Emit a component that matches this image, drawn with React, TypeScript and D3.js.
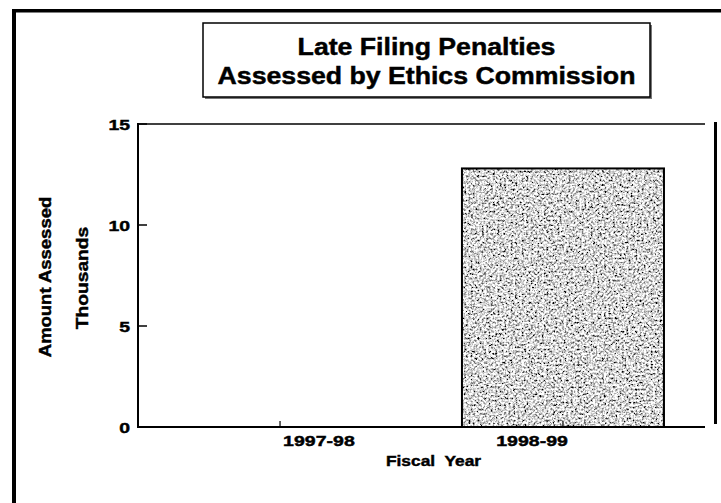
import React from 'react';
import { scaleBand, scaleLinear, scalePoint } from 'd3';

// values
const years = ['1997-98', '1998-99'];
const assessed = [0, 12.8]; // thousands
const yTicks = [0, 5, 10, 15];
const titleLines = ['Late Filing Penalties', 'Assessed by Ethics Commission'];

const W = 721;
const H = 503;
const plot = { left: 138, right: 705, top: 124, bottom: 427 };
const font = '"Liberation Sans", Arial, sans-serif';

type STProps = {
  x: number;
  y: number;
  size: number;
  sx: number;
  rotate?: number;
  anchor?: 'start' | 'middle' | 'end';
  dy?: string;
  children: React.ReactNode;
};

// the scan's lettering is a wide, heavy Helvetica bold: stretch it sideways
const StretchText = ({ x, y, size, sx, rotate = 0, anchor = 'middle', dy, children }: STProps) => (
  <g transform={`translate(${x},${y}) rotate(${rotate}) scale(${sx},1)`}>
    <text
      textAnchor={anchor}
      dy={dy}
      fontFamily={font}
      fontWeight="bold"
      fontSize={size}
      fill="#000"
      stroke="#000"
      strokeWidth={0.45}
      style={{ whiteSpace: 'pre' }}
    >
      {children}
    </text>
  </g>
);

const App: React.FC = () => {
  const x = scaleBand<string>()
    .domain(years)
    .range([plot.left, plot.right])
    .paddingInner(0.286)
    .paddingOuter(0.145);

  // the category labels in the scan sit a little inward of the bars
  const xLabel = scalePoint<string>()
    .domain(years)
    .range([plot.left, plot.right])
    .padding(0.83);

  const y = scaleLinear().domain([0, 15]).range([plot.bottom, plot.top]);

  return (
    <svg
      width={W}
      height={H}
      style={{ position: 'absolute', left: 0, top: 0, background: '#fff' }}
    >
      <defs>
        <filter id="grain" x="0" y="0" width="1" height="1">
          <feTurbulence type="fractalNoise" baseFrequency="0.45" numOctaves="4" seed="11" />
          <feColorMatrix
            type="matrix"
            values="2.6 0 0 0 -0.62  2.6 0 0 0 -0.62  2.6 0 0 0 -0.62  0 0 0 0 1"
          />
          <feComposite in2="SourceGraphic" operator="in" />
        </filter>
      </defs>

      {/* outer frame (left, top, and the short right piece) */}
      <rect x={12} y={9} width={4} height={H - 9} fill="#000" />
      <rect x={12} y={9} width={W - 12} height={3.5} fill="#000" />
      <rect x={714} y={122} width={3} height={302} fill="#000" />

      {/* title box */}
      <rect x={205} y={25} width={447} height={74} fill="#777" />
      <rect x={203} y={23} width={447} height={74} fill="#fff" stroke="#000" strokeWidth={1.5} />
      {titleLines.map((t, i) => (
        <StretchText key={t} x={426.5} y={55 + i * 29} size={23} sx={1.16}>
          {t}
        </StretchText>
      ))}

      {/* bars */}
      {years.map((yr, i) => {
        const v = assessed[i];
        if (v <= 0) return null;
        const bx = x(yr)!;
        const by = y(v);
        return (
          <g key={yr}>
            <rect
              x={bx}
              y={by}
              width={x.bandwidth()}
              height={y(0) - by}
              fill="#999"
              filter="url(#grain)"
            />
            <rect
              x={bx}
              y={by}
              width={x.bandwidth()}
              height={y(0) - by}
              fill="none"
              stroke="#000"
              strokeWidth={2}
            />
          </g>
        );
      })}

      {/* axes */}
      <line x1={plot.left} x2={plot.right} y1={y(15)} y2={y(15)} stroke="#000" strokeWidth={1.5} />
      <line x1={plot.left} x2={plot.right} y1={y(0)} y2={y(0)} stroke="#000" strokeWidth={2.2} />
      <line x1={plot.left} x2={plot.left} y1={y(15) - 1} y2={y(0) + 1} stroke="#000" strokeWidth={2} />

      {yTicks.map((t) => (
        <g key={t}>
          <line x1={plot.left} x2={plot.left + 9} y1={y(t)} y2={y(t)} stroke="#000" strokeWidth={1.5} />
          <StretchText x={130} y={y(t)} size={15.5} sx={1.25} anchor="end" dy="0.36em">
            {t}
          </StretchText>
        </g>
      ))}

      {years.map((yr) => (
        <g key={yr}>
          <line
            x1={x(yr)! + x.bandwidth() / 2}
            x2={x(yr)! + x.bandwidth() / 2}
            y1={y(0)}
            y2={y(0) - 6}
            stroke="#000"
            strokeWidth={1.2}
          />
          <StretchText x={xLabel(yr)! + 4} y={446} size={15.5} sx={1.26}>
            {yr}
          </StretchText>
        </g>
      ))}

      <StretchText x={(plot.left + plot.right) / 2 + 12} y={466} size={15.5} sx={1.12}>
        {'Fiscal  Year'}
      </StretchText>

      {/* y axis title */}
      <StretchText x={51} y={277} size={16.5} sx={1.12} rotate={-90}>
        Amount Assessed
      </StretchText>
      <StretchText x={88} y={278} size={17} sx={1.13} rotate={-90}>
        Thousands
      </StretchText>
    </svg>
  );
};

export default App;
